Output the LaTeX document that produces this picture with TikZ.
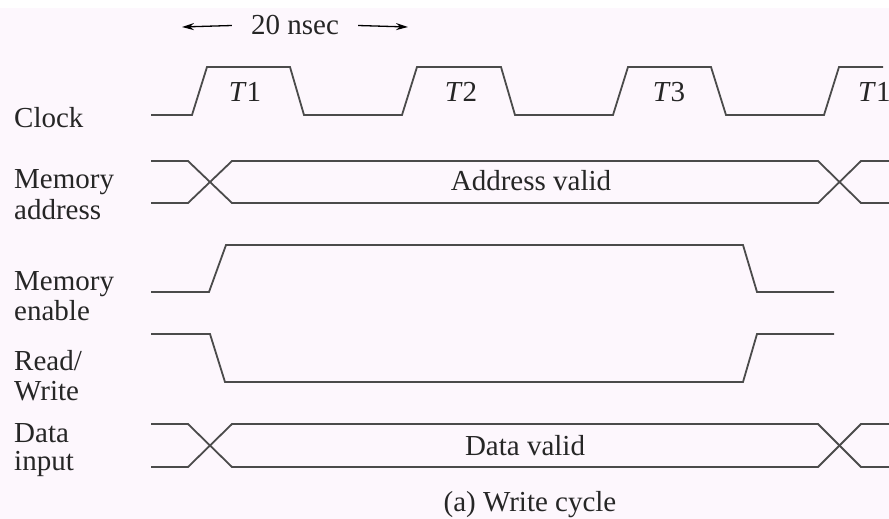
\documentclass[tikz,border=0pt]{standalone}
\usepackage{fontspec}
\setmainfont{Liberation Serif}
\usetikzlibrary{arrows.meta}
\definecolor{wave}{RGB}{75,75,75}
\definecolor{paper}{RGB}{253,247,253}

\begin{document}
\begin{tikzpicture}[x=1pt,y=-1pt,
  sig/.style={draw=wave,line width=1.8pt},
  lbl/.style={anchor=base west,inner sep=0pt,text=black!85,font=\fontsize{29}{29}\selectfont}]
\fill[white] (0,0) rectangle (889,8);
\fill[paper] (0,8) rectangle (889,519);
\useasboundingbox (0,0) rectangle (889,519);

\coordinate (L) at (182,27);
\coordinate (R) at (408,27);

\node[lbl,anchor=base,inner xsep=19pt] (ns) at (295,35) {20 nsec};
\draw[-{Stealth[length=12pt,width=7pt]},line width=1.3pt] (ns.west) -- (L);
\draw[-{Stealth[length=12pt,width=7pt]},line width=1.3pt] (ns.east) -- (R);

\node[lbl] (clk) at (14,127) {Clock};
\node[lbl] (ma1) at (14,188) {Memory};
\node[lbl] (ma2) at (14,219) {address};
\node[lbl] (me1) at (14,290) {Memory};
\node[lbl] (me2) at (14,320) {enable};
\node[lbl] (rw1) at (14,370) {Read/};
\node[lbl] (rw2) at (14,400) {Write};
\node[lbl] (di1) at (14,442) {Data};
\node[lbl] (di2) at (14,470) {input};

\node[lbl,anchor=base] (t1) at (245,102) {\textit{T}1};
\node[lbl,anchor=base] (t2) at (461,102) {\textit{T}2};
\node[lbl,anchor=base] (t3) at (669,102) {\textit{T}3};
\node[lbl,anchor=base west] (t4) at (858,102) {\textit{T}1};

\draw[sig] (151,115) -- (192,115) -- (207,67) -- (290,67) -- (304,115)
  -- (402,115) -- (417,67) -- (501,67) -- (515,115)
  -- (613,115) -- (628,67) -- (711,67) -- (726,115)
  -- (824,115) -- (839,67) -- (883,67);

\draw[sig] (151,161) -- (188,161) -- (232,203) -- (818,203) -- (861,161) -- (889,161);
\draw[sig] (151,203) -- (188,203) -- (232,161) -- (818,161) -- (861,203) -- (889,203);
\node[lbl,anchor=base] (av) at (531,190) {Address valid};

\draw[sig] (151,292) -- (209,292) -- (226,245) -- (743,245) -- (757,292) -- (834,292);

\draw[sig] (151,334) -- (210,334) -- (225,382) -- (743,382) -- (757,334) -- (834,334);

\draw[sig] (151,424) -- (188,424) -- (232,467) -- (818,467) -- (861,424) -- (889,424);
\draw[sig] (151,467) -- (188,467) -- (232,424) -- (818,424) -- (861,467) -- (889,467);
\node[lbl,anchor=base] (dv) at (525,455) {Data valid};

\node[lbl,anchor=base] (cap) at (530,511) {(a) Write cycle};

\end{tikzpicture}
\end{document}
